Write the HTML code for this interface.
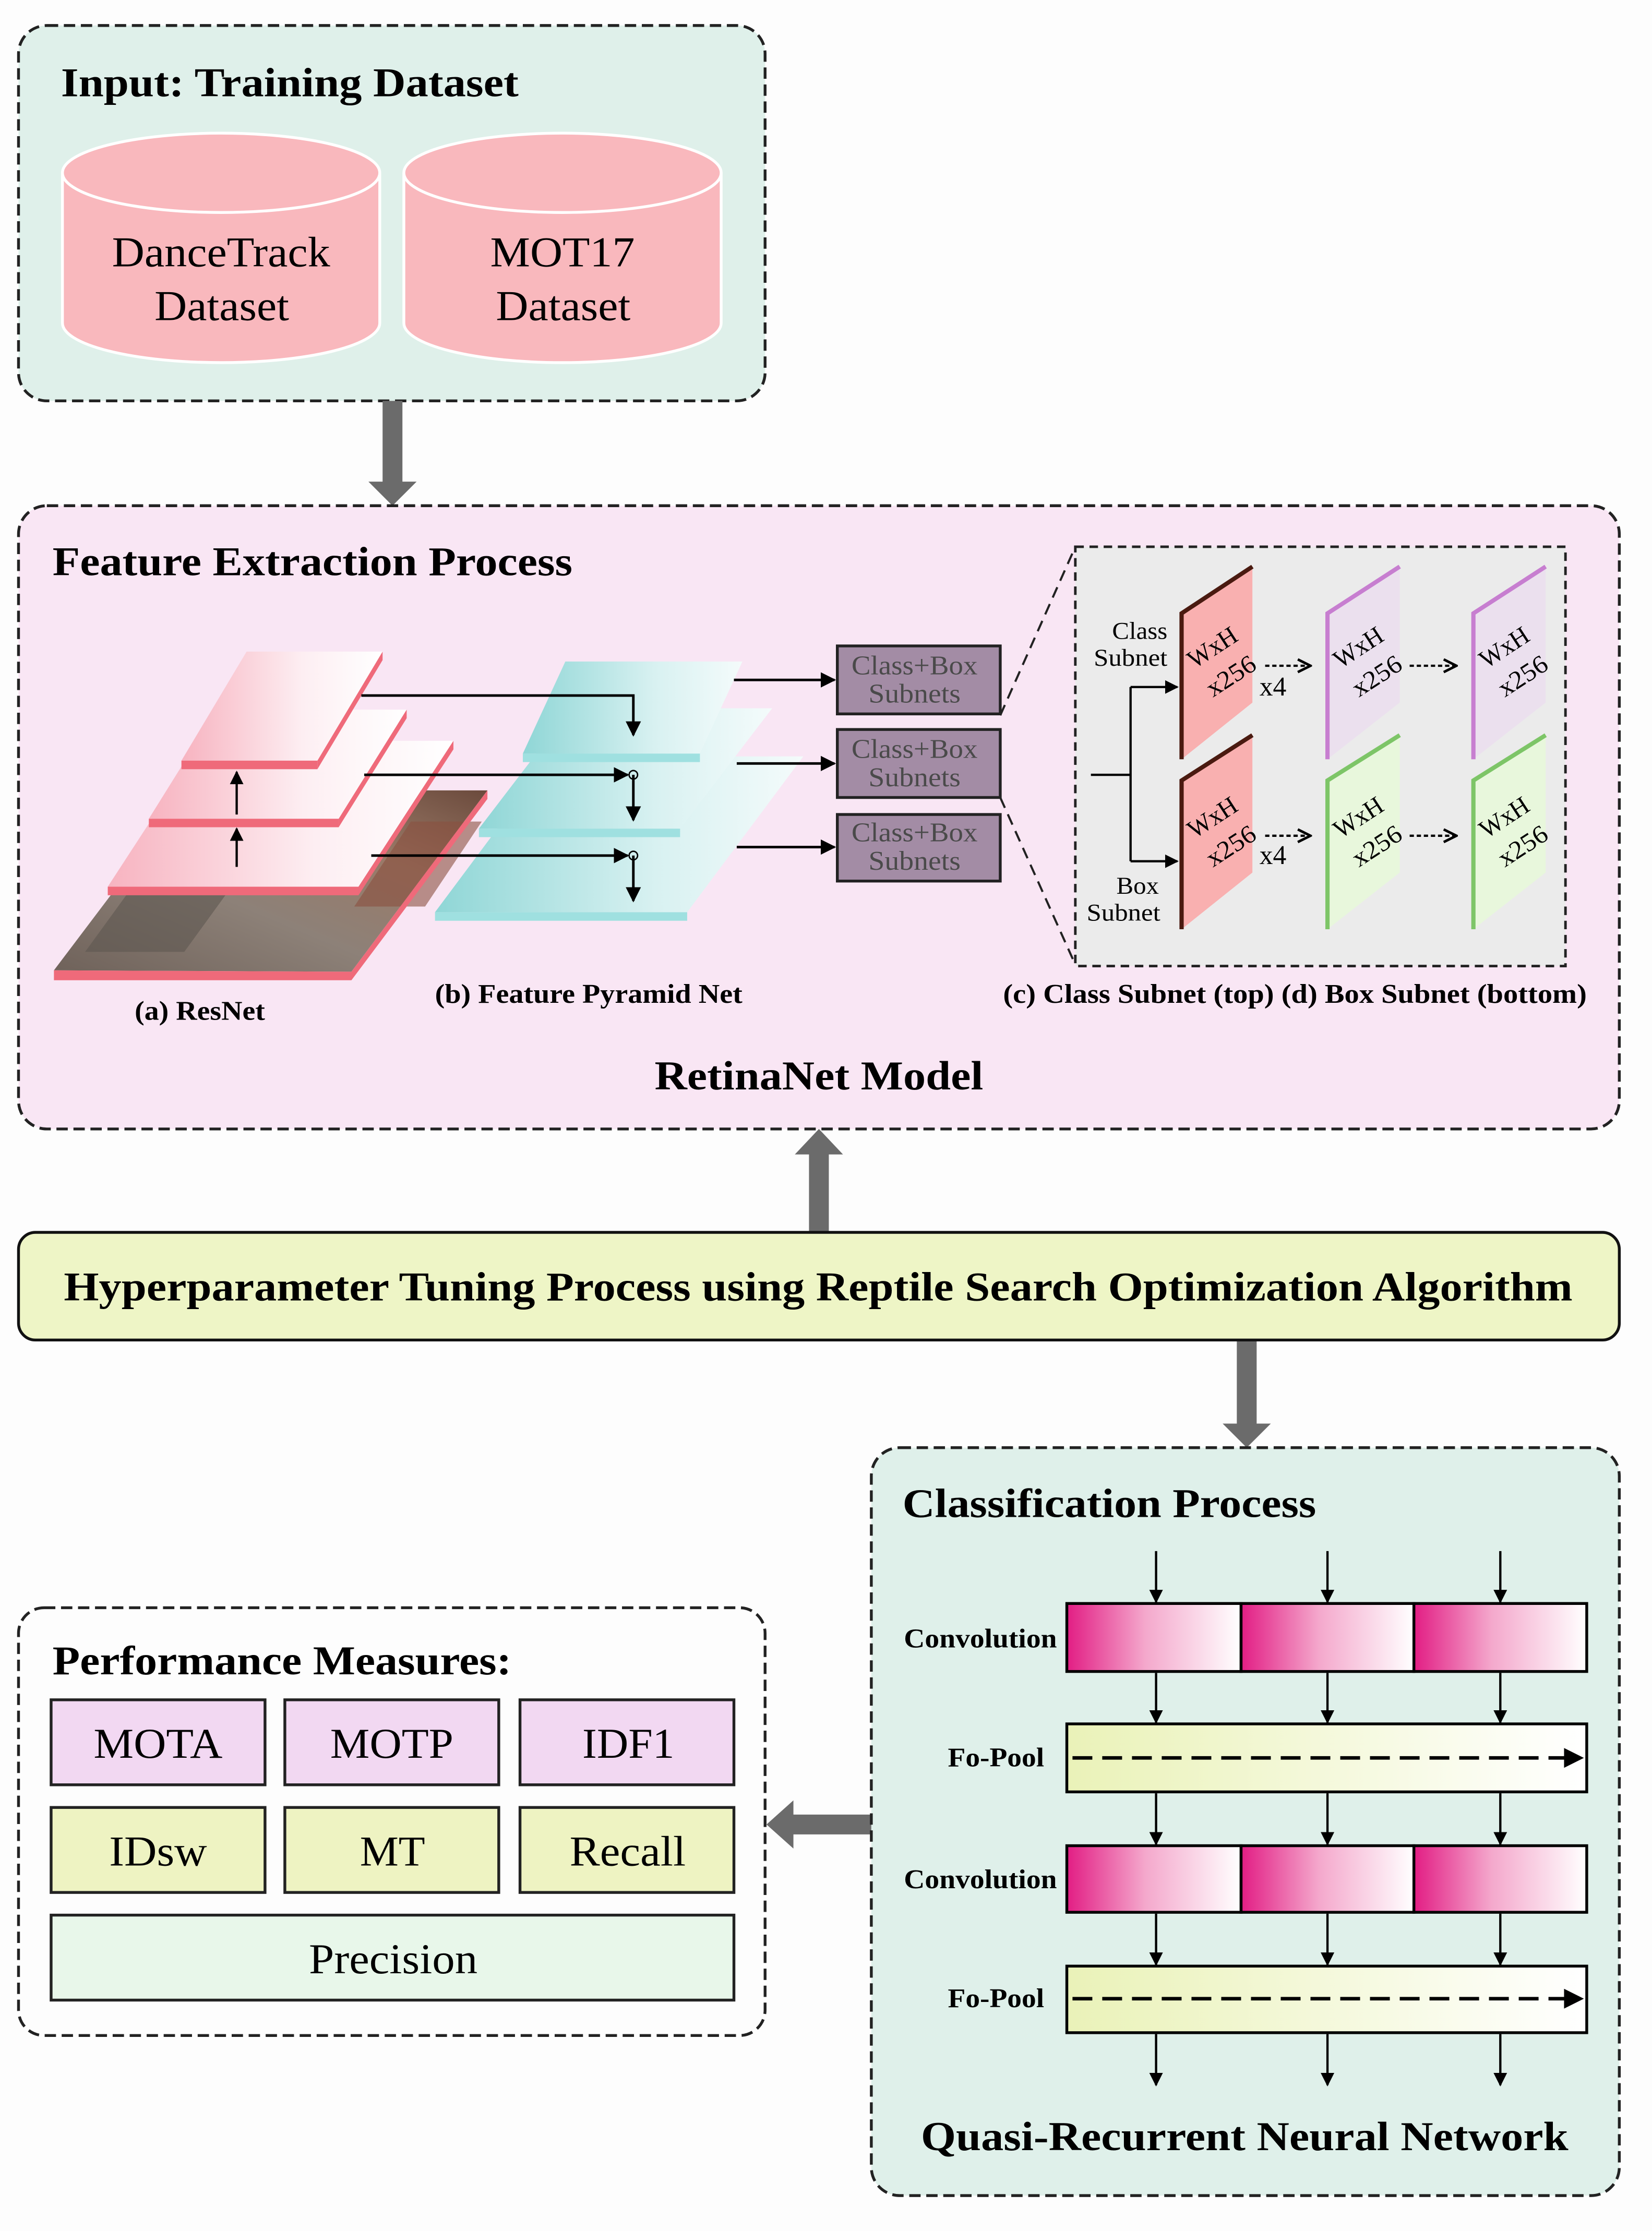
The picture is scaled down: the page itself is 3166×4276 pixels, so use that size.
<!DOCTYPE html>
<html><head><meta charset="utf-8"><style>
html,body{margin:0;padding:0;background:#fdfdfd}
svg{display:block}
text{font-family:"Liberation Serif","Times New Roman",serif}
.b{font-weight:bold}
</style></head><body>
<svg width="3166" height="4276" viewBox="0 0 1166 1575" xmlns="http://www.w3.org/2000/svg" font-family="Liberation Serif, serif">
<defs>
<linearGradient id="conv" x1="0" x2="1" y1="0" y2="0"><stop offset="0" stop-color="#e21d84"/><stop offset="0.45" stop-color="#f4a8cc"/><stop offset="1" stop-color="#fff"/></linearGradient>
<linearGradient id="pool" x1="0" x2="1" y1="0" y2="0"><stop offset="0" stop-color="#eaf2b8"/><stop offset="1" stop-color="#fff"/></linearGradient>
<linearGradient id="rl" x1="0" x2="1" y1="0" y2="0"><stop offset="0" stop-color="#f7b3c0"/><stop offset="0.6" stop-color="#fdeef2"/><stop offset="1" stop-color="#fff"/></linearGradient>
<linearGradient id="cl" x1="0" x2="1" y1="0" y2="0"><stop offset="0" stop-color="#8fd6d6"/><stop offset="0.6" stop-color="#d8f1f1"/><stop offset="1" stop-color="#f4fbfb"/></linearGradient>
<linearGradient id="photo" x1="0" y1="1" x2="1" y2="0"><stop offset="0" stop-color="#6f625a"/><stop offset="0.4" stop-color="#8d8178"/><stop offset="0.7" stop-color="#9a7a68"/><stop offset="1" stop-color="#6b4a3c"/></linearGradient>
<marker id="ah" viewBox="0 0 10 10" refX="9" refY="5" markerWidth="6" markerHeight="6" orient="auto"><path d="M0,0 L10,5 L0,10 z" fill="#000"/></marker>
<marker id="oh" viewBox="0 0 10 10" refX="9" refY="5" markerWidth="7" markerHeight="7" orient="auto"><path d="M1,1 L9,5 L1,9" fill="none" stroke="#000" stroke-width="1.6"/></marker>
</defs>

<!-- Input box -->
<rect x="13" y="18" width="527" height="265" rx="20" fill="#dff0ea" stroke="#222" stroke-width="2" stroke-dasharray="8,4"/>
<text x="43" y="68" font-size="29" class="b" textLength="323" lengthAdjust="spacingAndGlyphs">Input: Training Dataset</text>
<g fill="#f9b8bd" stroke="#fff" stroke-width="2">
<path d="M44,122 L44,228 A112,28 0 0 0 268,228 L268,122"/>
<ellipse cx="156" cy="122" rx="112" ry="28"/>
<path d="M285,122 L285,228 A112,28 0 0 0 509,228 L509,122"/>
<ellipse cx="397" cy="122" rx="112" ry="28"/>
</g>
<g font-size="30">
<text x="79" y="188" textLength="154" lengthAdjust="spacingAndGlyphs">DanceTrack</text>
<text x="109" y="226" textLength="95" lengthAdjust="spacingAndGlyphs">Dataset</text>
<text x="346" y="188" textLength="102" lengthAdjust="spacingAndGlyphs">MOT17</text>
<text x="350" y="226" textLength="95" lengthAdjust="spacingAndGlyphs">Dataset</text>
</g>

<!-- gray arrows -->
<path d="M270,283 L284,283 L284,340 L294,340 L277,357 L260,340 L270,340 z" fill="#6b6b6b"/>
<path d="M571,870 L585,870 L585,815 L595,815 L578,797 L561,815 L571,815 z" fill="#6b6b6b"/>
<path d="M873,946 L887,946 L887,1005 L897,1005 L880,1022 L863,1005 L873,1005 z" fill="#6b6b6b"/>
<path d="M615,1281 L615,1295 L560,1295 L560,1305 L541,1288 L560,1271 L560,1281 z" fill="#6b6b6b"/>

<!-- Feature box -->
<rect x="13" y="357" width="1130" height="440" rx="20" fill="#f9e6f4" stroke="#222" stroke-width="2" stroke-dasharray="8,4"/>
<text x="37" y="406" font-size="29" class="b" textLength="367" lengthAdjust="spacingAndGlyphs">Feature Extraction Process</text>

<!-- ResNet photo -->
<path d="M38,685 L248,686 L344,558 L134,558 z" fill="url(#photo)"/>
<path d="M60,672 L130,672 L175,610 L105,610 z" fill="#5d5650" opacity="0.6"/>
<path d="M250,640 L300,640 L340,580 L290,580 z" fill="#8a5040" opacity="0.6"/>
<path d="M38,685 L248,686 L248,692 L38,692 z" fill="#ef6a7a"/>
<path d="M248,686 L344,558 L344,564 L248,692 z" fill="#ef6a7a"/>
<!-- layers -->
<path d="M76,626 L253,626 L320,523 L143,523 z" fill="url(#rl)"/>
<path d="M76,626 L253,626 L253,632 L76,632 z" fill="#ef6a7a"/>
<path d="M253,626 L320,523 L320,529 L253,632 z" fill="#ef6a7a"/>
<path d="M105,578 L239,578 L287,501 L153,501 z" fill="url(#rl)"/>
<path d="M105,578 L239,578 L239,584 L105,584 z" fill="#ef6a7a"/>
<path d="M239,578 L287,501 L287,507 L239,584 z" fill="#ef6a7a"/>
<path d="M128,537 L224,537 L270,460 L174,460 z" fill="url(#rl)"/>
<path d="M128,537 L224,537 L224,543 L128,543 z" fill="#ef6a7a"/>
<path d="M224,537 L270,460 L270,466 L224,543 z" fill="#ef6a7a"/>
<line x1="167" y1="575" x2="167" y2="545" stroke="#000" stroke-width="1.6" marker-end="url(#ah)"/>
<line x1="167" y1="612" x2="167" y2="585" stroke="#000" stroke-width="1.6" marker-end="url(#ah)"/>

<!-- FPN layers -->
<path d="M307,644 L485,644 L567,534 L389,534 z" fill="url(#cl)"/>
<path d="M307,644 L485,644 L485,650 L307,650 z" fill="#9fe0e0"/>
<path d="M338,585 L480,585 L545,500 L403,500 z" fill="url(#cl)"/>
<path d="M338,585 L480,585 L480,591 L338,591 z" fill="#9fe0e0"/>
<path d="M369,532 L494,532 L524,467 L399,467 z" fill="url(#cl)"/>
<path d="M369,532 L494,532 L494,538 L369,538 z" fill="#9fe0e0"/>

<g stroke="#000" stroke-width="1.8" fill="none">
<path d="M255,491 L447,491 L447,519" marker-end="url(#ah)"/>
<line x1="257" y1="547" x2="443" y2="547" marker-end="url(#ah)"/>
<line x1="447" y1="547" x2="447" y2="579" marker-end="url(#ah)"/>
<line x1="262" y1="604" x2="443" y2="604" marker-end="url(#ah)"/>
<line x1="447" y1="604" x2="447" y2="636" marker-end="url(#ah)"/>
<line x1="518" y1="480" x2="589" y2="480" marker-end="url(#ah)"/>
<line x1="520" y1="539" x2="589" y2="539" marker-end="url(#ah)"/>
<line x1="520" y1="598" x2="589" y2="598" marker-end="url(#ah)"/>
</g>
<circle cx="447" cy="547" r="3" fill="none" stroke="#000"/>
<circle cx="447" cy="604" r="3" fill="none" stroke="#000"/>

<g fill="#a38ca5" stroke="#222" stroke-width="2">
<rect x="591" y="456" width="115" height="48"/>
<rect x="591" y="515" width="115" height="48"/>
<rect x="591" y="575" width="115" height="47"/>
</g>
<g font-size="19" fill="#4a4a4a">
<text x="601" y="476" textLength="89" lengthAdjust="spacingAndGlyphs">Class+Box</text><text x="613" y="496" textLength="65" lengthAdjust="spacingAndGlyphs">Subnets</text>
<text x="601" y="535" textLength="89" lengthAdjust="spacingAndGlyphs">Class+Box</text><text x="613" y="555" textLength="65" lengthAdjust="spacingAndGlyphs">Subnets</text>
<text x="601" y="594" textLength="89" lengthAdjust="spacingAndGlyphs">Class+Box</text><text x="613" y="614" textLength="65" lengthAdjust="spacingAndGlyphs">Subnets</text>
</g>
<line x1="706" y1="505" x2="759" y2="386" stroke="#222" stroke-width="1.5" stroke-dasharray="8,5"/>
<line x1="706" y1="563" x2="759" y2="681" stroke="#222" stroke-width="1.5" stroke-dasharray="8,5"/>

<!-- subnet panel -->
<rect x="759" y="386" width="346" height="296" fill="#ebebeb" stroke="#222" stroke-width="1.8" stroke-dasharray="6,4"/>
<g font-size="17">
<text x="785" y="451" textLength="39" lengthAdjust="spacingAndGlyphs">Class</text><text x="772" y="470" textLength="52" lengthAdjust="spacingAndGlyphs">Subnet</text>
<text x="788" y="631" textLength="30" lengthAdjust="spacingAndGlyphs">Box</text><text x="767" y="650" textLength="52" lengthAdjust="spacingAndGlyphs">Subnet</text>
</g>
<g stroke="#000" stroke-width="1.6" fill="none">
<path d="M770,547 L798,547"/>
<path d="M798,485 L798,608"/>
<line x1="798" y1="485" x2="831" y2="485" marker-end="url(#ah)"/>
<line x1="798" y1="608" x2="831" y2="608" marker-end="url(#ah)"/>
<g stroke-dasharray="3,2"><line x1="893" y1="470" x2="925" y2="470" marker-end="url(#oh)"/>
<line x1="995" y1="470" x2="1028" y2="470" marker-end="url(#oh)"/>
<line x1="893" y1="590" x2="925" y2="590" marker-end="url(#oh)"/>
<line x1="995" y1="590" x2="1028" y2="590" marker-end="url(#oh)"/></g>
</g>
<text x="889" y="491" font-size="19" font-family="Liberation Sans, sans-serif">x4</text>
<text x="889" y="610" font-size="19" font-family="Liberation Sans, sans-serif">x4</text>
<!-- plates -->
<g>
<path d="M834,433 L884,400 L884,496 L834,536 z" fill="#f9b0b0"/><path d="M834,536 L834,433 L884,400" fill="none" stroke="#4a1a10" stroke-width="3"/>
<path d="M834,551 L884,519 L884,616 L834,656 z" fill="#f9b0b0"/><path d="M834,656 L834,551 L884,519" fill="none" stroke="#4a1a10" stroke-width="3"/>
<path d="M937,433 L988,400 L988,496 L937,536 z" fill="#ebe0ee"/><path d="M937,536 L937,433 L988,400" fill="none" stroke="#c77ed0" stroke-width="3"/>
<path d="M1040,433 L1091,400 L1091,496 L1040,536 z" fill="#ebe0ee"/><path d="M1040,536 L1040,433 L1091,400" fill="none" stroke="#c77ed0" stroke-width="3"/>
<path d="M937,551 L988,519 L988,616 L937,656 z" fill="#e8f7dc"/><path d="M937,656 L937,551 L988,519" fill="none" stroke="#7dc567" stroke-width="3"/>
<path d="M1040,551 L1091,519 L1091,616 L1040,656 z" fill="#e8f7dc"/><path d="M1040,656 L1040,551 L1091,519" fill="none" stroke="#7dc567" stroke-width="3"/>
</g>
<g font-size="18">
<g transform="translate(859,462) rotate(-33)"><text x="0" y="0" text-anchor="middle" textLength="38" lengthAdjust="spacingAndGlyphs">WxH</text><text x="0" y="24" text-anchor="middle" textLength="38" lengthAdjust="spacingAndGlyphs">x256</text></g>
<g transform="translate(962,462) rotate(-33)"><text x="0" y="0" text-anchor="middle" textLength="38" lengthAdjust="spacingAndGlyphs">WxH</text><text x="0" y="24" text-anchor="middle" textLength="38" lengthAdjust="spacingAndGlyphs">x256</text></g>
<g transform="translate(1065,462) rotate(-33)"><text x="0" y="0" text-anchor="middle" textLength="38" lengthAdjust="spacingAndGlyphs">WxH</text><text x="0" y="24" text-anchor="middle" textLength="38" lengthAdjust="spacingAndGlyphs">x256</text></g>
<g transform="translate(859,582) rotate(-33)"><text x="0" y="0" text-anchor="middle" textLength="38" lengthAdjust="spacingAndGlyphs">WxH</text><text x="0" y="24" text-anchor="middle" textLength="38" lengthAdjust="spacingAndGlyphs">x256</text></g>
<g transform="translate(962,582) rotate(-33)"><text x="0" y="0" text-anchor="middle" textLength="38" lengthAdjust="spacingAndGlyphs">WxH</text><text x="0" y="24" text-anchor="middle" textLength="38" lengthAdjust="spacingAndGlyphs">x256</text></g>
<g transform="translate(1065,582) rotate(-33)"><text x="0" y="0" text-anchor="middle" textLength="38" lengthAdjust="spacingAndGlyphs">WxH</text><text x="0" y="24" text-anchor="middle" textLength="38" lengthAdjust="spacingAndGlyphs">x256</text></g>
</g>
<g font-size="19" class="b">
<text x="95" y="720" textLength="92" lengthAdjust="spacingAndGlyphs">(a) ResNet</text>
<text x="307" y="708" textLength="217" lengthAdjust="spacingAndGlyphs">(b) Feature Pyramid Net</text>
<text x="708" y="708" textLength="412" lengthAdjust="spacingAndGlyphs">(c) Class Subnet (top)  (d) Box Subnet (bottom)</text>
</g>
<text x="462" y="769" font-size="29" class="b" textLength="232" lengthAdjust="spacingAndGlyphs">RetinaNet Model</text>

<!-- Hyperparameter -->
<rect x="13" y="870" width="1130" height="76" rx="12" fill="#eef5c6" stroke="#111" stroke-width="2"/>
<text x="45" y="918" font-size="29" class="b" textLength="1065" lengthAdjust="spacingAndGlyphs">Hyperparameter Tuning Process using Reptile Search Optimization Algorithm</text>

<!-- Classification -->
<rect x="615" y="1022" width="528" height="528" rx="20" fill="#dff0ea" stroke="#222" stroke-width="2" stroke-dasharray="8,4"/>
<text x="637" y="1071" font-size="29" class="b" textLength="292" lengthAdjust="spacingAndGlyphs">Classification Process</text>
<g stroke="#000" stroke-width="2">
<rect x="753" y="1132" width="123" height="48" fill="url(#conv)"/>
<rect x="876" y="1132" width="122" height="48" fill="url(#conv)"/>
<rect x="998" y="1132" width="122" height="48" fill="url(#conv)"/>
<rect x="753" y="1217" width="367" height="48" fill="url(#pool)"/>
<rect x="753" y="1303" width="123" height="47" fill="url(#conv)"/>
<rect x="876" y="1303" width="122" height="47" fill="url(#conv)"/>
<rect x="998" y="1303" width="122" height="47" fill="url(#conv)"/>
<rect x="753" y="1388" width="367" height="47" fill="url(#pool)"/>
</g>
<g stroke="#000" stroke-width="2.5" stroke-dasharray="14,7"><line x1="757" y1="1241" x2="1106" y2="1241"/><line x1="757" y1="1411" x2="1106" y2="1411"/></g>
<path d="M1104,1234 L1118,1241 L1104,1248 z"/><path d="M1104,1404 L1118,1411 L1104,1418 z"/>
<g stroke="#000" stroke-width="1.6">
<line x1="816" y1="1095" x2="816" y2="1131" marker-end="url(#ah)"/><line x1="937" y1="1095" x2="937" y2="1131" marker-end="url(#ah)"/><line x1="1059" y1="1095" x2="1059" y2="1131" marker-end="url(#ah)"/>
<line x1="816" y1="1181" x2="816" y2="1216" marker-end="url(#ah)"/><line x1="937" y1="1181" x2="937" y2="1216" marker-end="url(#ah)"/><line x1="1059" y1="1181" x2="1059" y2="1216" marker-end="url(#ah)"/>
<line x1="816" y1="1266" x2="816" y2="1302" marker-end="url(#ah)"/><line x1="937" y1="1266" x2="937" y2="1302" marker-end="url(#ah)"/><line x1="1059" y1="1266" x2="1059" y2="1302" marker-end="url(#ah)"/>
<line x1="816" y1="1351" x2="816" y2="1387" marker-end="url(#ah)"/><line x1="937" y1="1351" x2="937" y2="1387" marker-end="url(#ah)"/><line x1="1059" y1="1351" x2="1059" y2="1387" marker-end="url(#ah)"/>
<line x1="816" y1="1436" x2="816" y2="1472" marker-end="url(#ah)"/><line x1="937" y1="1436" x2="937" y2="1472" marker-end="url(#ah)"/><line x1="1059" y1="1436" x2="1059" y2="1472" marker-end="url(#ah)"/>
</g>
<g font-size="19" class="b">
<text x="638" y="1163" textLength="108" lengthAdjust="spacingAndGlyphs">Convolution</text><text x="669" y="1247" textLength="68" lengthAdjust="spacingAndGlyphs">Fo-Pool</text>
<text x="638" y="1333" textLength="108" lengthAdjust="spacingAndGlyphs">Convolution</text><text x="669" y="1417" textLength="68" lengthAdjust="spacingAndGlyphs">Fo-Pool</text>
</g>
<text x="650" y="1518" font-size="29" class="b" textLength="457" lengthAdjust="spacingAndGlyphs">Quasi-Recurrent Neural Network</text>

<!-- Performance -->
<rect x="13" y="1135" width="527" height="302" rx="18" fill="#fdfdfd" stroke="#222" stroke-width="2" stroke-dasharray="8,4"/>
<text x="37" y="1182" font-size="29" class="b" textLength="324" lengthAdjust="spacingAndGlyphs">Performance Measures:</text>
<g stroke="#222" stroke-width="2">
<rect x="36" y="1200" width="151" height="60" fill="#f2d8f2"/><rect x="201" y="1200" width="151" height="60" fill="#f2d8f2"/><rect x="367" y="1200" width="151" height="60" fill="#f2d8f2"/>
<rect x="36" y="1276" width="151" height="60" fill="#eef3c2"/><rect x="201" y="1276" width="151" height="60" fill="#eef3c2"/><rect x="367" y="1276" width="151" height="60" fill="#eef3c2"/>
<rect x="36" y="1352" width="482" height="60" fill="#e8f7ea"/>
</g>
<g font-size="30">
<text x="66" y="1241" textLength="91" lengthAdjust="spacingAndGlyphs">MOTA</text><text x="233" y="1241" textLength="87" lengthAdjust="spacingAndGlyphs">MOTP</text><text x="411" y="1241" textLength="65" lengthAdjust="spacingAndGlyphs">IDF1</text>
<text x="77" y="1317" textLength="69" lengthAdjust="spacingAndGlyphs">IDsw</text><text x="254" y="1317" textLength="46" lengthAdjust="spacingAndGlyphs">MT</text><text x="402" y="1317" textLength="82" lengthAdjust="spacingAndGlyphs">Recall</text>
<text x="218" y="1393" textLength="119" lengthAdjust="spacingAndGlyphs">Precision</text>
</g>
</svg>
</body></html>
